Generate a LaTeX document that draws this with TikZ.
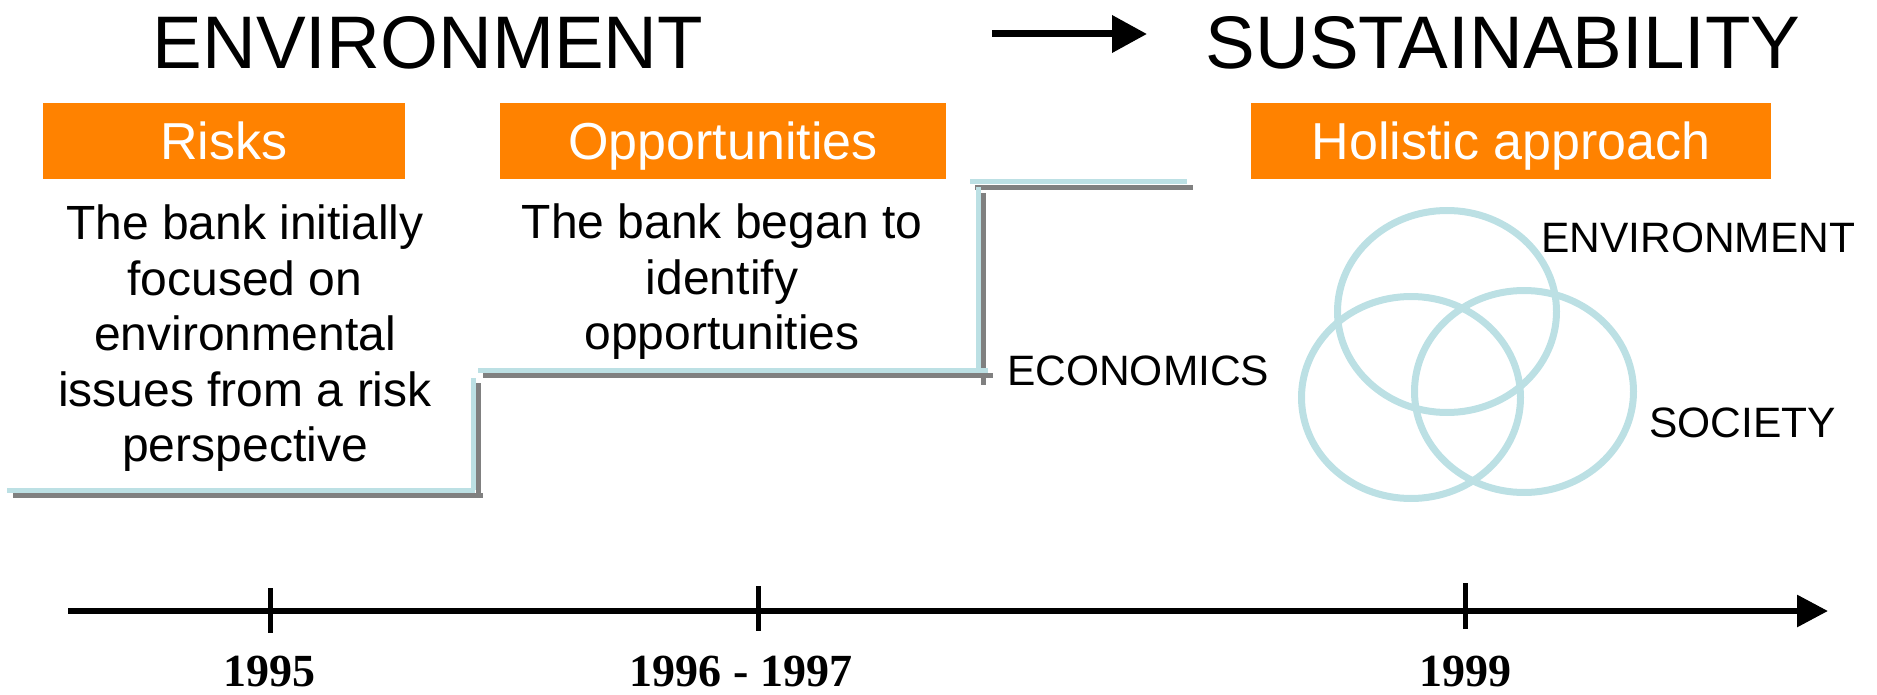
\documentclass[tikz,border=0pt]{standalone}
\usepackage{fontspec}
\setmainfont{Liberation Sans}
\newfontfamily\yearfont{Liberation Serif}
\usetikzlibrary{arrows.meta}
\definecolor{orng}{RGB}{255,130,0}
\definecolor{lblue}{RGB}{188,224,228}
\definecolor{shgray}{RGB}{128,128,128}
\tikzset{
  hdr/.style={fill=orng, text=white, inner sep=0pt, minimum height=76pt,
    text height=38pt, text depth=0pt, font=\fontsize{52}{60}\selectfont},
  bodytext/.style={align=center, inner sep=0pt, anchor=north,
    font=\fontsize{48}{55.5}\selectfont},
  title/.style={inner sep=0pt, anchor=base, font=\fontsize{74.5}{80}\selectfont},
  lbl/.style={inner sep=0pt, anchor=base west, font=\fontsize{42.5}{50}\selectfont},
  yearlbl/.style={inner sep=0pt, anchor=base, text depth=0pt, font=\yearfont\bfseries\fontsize{46}{52}\selectfont},
  stairblue/.style={draw=lblue, line width=5pt},
  stairgray/.style={draw=shgray, line width=5pt},
  venn/.style={draw=lblue, line width=7pt},
  tick/.style={draw=black, line width=5pt},
}
\begin{document}
\begin{tikzpicture}[x=1pt,y=-1pt]
\useasboundingbox (0,0) rectangle (1877,695);

% titles
\node[title] (tenv) at (428,69) {ENVIRONMENT};
\node[title] (tsus) at (1503,69) {SUSTAINABILITY};
\coordinate (ta) at (992,34);
\coordinate (tb) at (1147,34);
\draw[line width=7pt, -{Triangle[length=35pt,width=36pt]}] (ta) -- (tb);

% orange headers
\node[hdr, minimum width=362pt] (hrisk) at (224,141) {Risks};
\node[hdr, minimum width=446pt] (hopp) at (723,141) {Opportunities};
\node[hdr, minimum width=520pt] (hhol) at (1511,141) {Holistic approach};

% body texts
\node[bodytext] (trisk) at (245,205) {The bank initially\\focused on\\environmental\\issues from a risk\\perspective};
\node[bodytext] (topp) at (722,204) {The bank began to\\identify\\opportunities};

% staircase (shadow first)
\draw[stairgray] (13,495.5) -- (483,495.5);
\draw[stairgray] (478.5,383) -- (478.5,495.5);
\draw[stairgray] (483,375.5) -- (993,375.5);
\draw[stairgray] (983.5,193) -- (983.5,385);
\draw[stairgray] (975,187.5) -- (1193,187.5);
\draw[stairblue] (7,490) -- (475,490);
\draw[stairblue] (473,378) -- (473,490);
\draw[stairblue] (478,370.5) -- (988,370.5);
\draw[stairblue] (978,187) -- (978,371);
\draw[stairblue] (970,181.5) -- (1187,181.5);

\node[lbl] (lecon) at (1007,385) {ECONOMICS};

% Venn diagram
\draw[venn] (1447,311.5) ellipse [x radius=109.5, y radius=101];
\draw[venn] (1411,397.5) ellipse [x radius=109.5, y radius=101];
\draw[venn] (1524,391.5) ellipse [x radius=109.5, y radius=101];
\node[lbl] (lenv) at (1541,252) {ENVIRONMENT};
\node[lbl] (lsoc) at (1649,437) {SOCIETY};

% timeline
\coordinate (tl0) at (68,611);
\coordinate (tl1) at (1828,611);
\draw[line width=6pt, -{Triangle[length=31pt,width=31pt]}] (tl0) -- (tl1);
\coordinate (k1a) at (270,588); \coordinate (k1b) at (270,633);
\coordinate (k2a) at (758,586); \coordinate (k2b) at (758,631);
\coordinate (k3a) at (1465,583); \coordinate (k3b) at (1465,629);
\draw[tick] (k1a) -- (k1b);
\draw[tick] (k2a) -- (k2b);
\draw[tick] (k3a) -- (k3b);
\node[yearlbl] (y1) at (269.5,686) {1995};
\node[yearlbl] (y2) at (741,686) {1996 - 1997};
\node[yearlbl] (y3) at (1465,686) {1999};
\end{tikzpicture}
\end{document}
